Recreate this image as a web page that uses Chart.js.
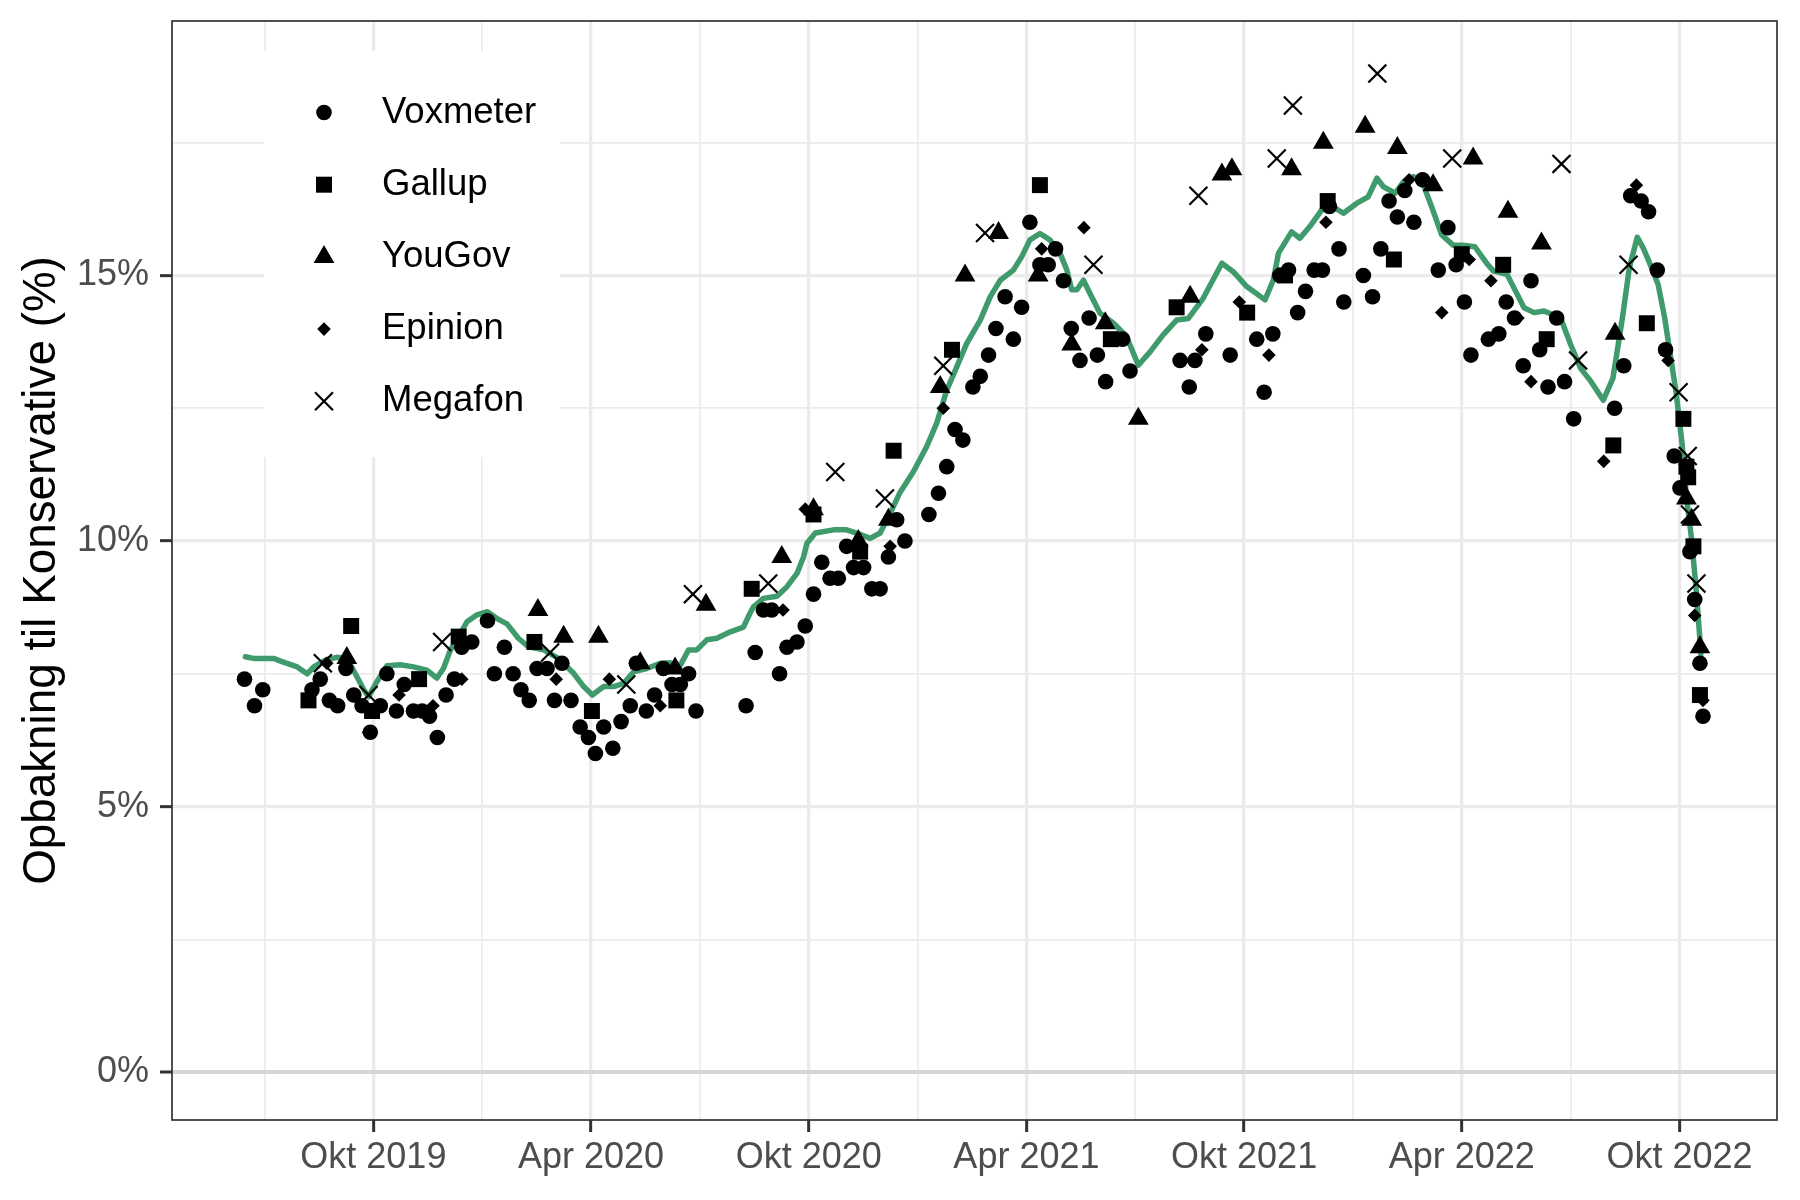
<!DOCTYPE html>
<html>
<head>
<meta charset="utf-8">
<script src="https://cdn.jsdelivr.net/npm/chart.js"></script>
<style>
  body { margin: 0; background: #fff; }
  #wrap { width: 1800px; height: 1200px; }
</style>
</head>
<body>
<div id="wrap"><canvas id="graf" width="1800" height="1200"></canvas></div>
<script>
// pollsters shown in the legend, in order
const institutter = ["Voxmeter", "Gallup", "YouGov", "Epinion", "Megafon"];

// polls: [date as decimal year, support in %]
const voxmeter = [
  [2019.454,7.4],[2019.477,6.9],[2019.496,7.2],[2019.609,7.2],[2019.628,7.4],[2019.649,7.0],[2019.668,6.9],
  [2019.687,7.6],[2019.705,7.1],[2019.724,6.9],[2019.743,6.4],[2019.766,6.9],[2019.781,7.5],[2019.803,6.8],
  [2019.821,7.3],[2019.842,6.8],[2019.862,6.8],[2019.879,6.7],[2019.897,6.3],[2019.917,7.1],[2019.936,7.4],
  [2019.953,8.0],[2019.976,8.1],[2020.012,8.5],[2020.028,7.5],[2020.051,8.0],[2020.071,7.5],[2020.089,7.2],
  [2020.108,7.0],[2020.126,7.6],[2020.149,7.6],[2020.166,7.0],[2020.183,7.7],[2020.204,7.0],[2020.225,6.5],
  [2020.244,6.3],[2020.260,6.0],[2020.279,6.5],[2020.300,6.1],[2020.319,6.6],[2020.340,6.9],[2020.354,7.7],
  [2020.377,6.8],[2020.396,7.1],[2020.416,7.6],[2020.436,7.3],[2020.455,7.3],[2020.474,7.5],[2020.491,6.8],
  [2020.606,6.9],[2020.627,7.9],[2020.646,8.7],[2020.665,8.7],[2020.683,7.5],[2020.700,8.0],[2020.723,8.1],
  [2020.742,8.4],[2020.761,9.0],[2020.780,9.6],[2020.799,9.3],[2020.818,9.3],[2020.837,9.9],[2020.853,9.5],
  [2020.876,9.5],[2020.895,9.1],[2020.914,9.1],[2020.933,9.7],[2020.952,10.4],[2020.971,10.0],[2021.026,10.5],
  [2021.048,10.9],[2021.067,11.4],[2021.086,12.1],[2021.104,11.9],[2021.127,12.9],[2021.144,13.1],[2021.163,13.5],
  [2021.180,14.0],[2021.201,14.6],[2021.220,13.8],[2021.239,14.4],[2021.258,16.0],[2021.281,15.2],[2021.300,15.2],
  [2021.317,15.5],[2021.335,14.9],[2021.353,14.0],[2021.373,13.4],[2021.394,14.2],[2021.413,13.5],[2021.432,13.0],
  [2021.471,13.8],[2021.488,13.2],[2021.603,13.4],[2021.624,12.9],[2021.637,13.4],[2021.662,13.9],[2021.718,13.5],
  [2021.779,13.8],[2021.796,12.8],[2021.816,13.9],[2021.832,15.0],[2021.852,15.1],[2021.873,14.3],[2021.891,14.7],
  [2021.911,15.1],[2021.930,15.1],[2021.946,16.3],[2021.968,15.5],[2021.979,14.5],[2022.024,15.0],[2022.045,14.6],
  [2022.064,15.5],[2022.083,16.4],[2022.102,16.1],[2022.119,16.6],[2022.140,16.0],[2022.160,16.8],[2022.196,15.1],
  [2022.218,15.9],[2022.237,15.2],[2022.256,14.5],[2022.271,13.5],[2022.311,13.8],[2022.335,13.9],[2022.352,14.5],
  [2022.371,14.2],[2022.391,13.3],[2022.409,14.9],[2022.429,13.6],[2022.448,12.9],[2022.468,14.2],[2022.486,13.0],
  [2022.507,12.3],[2022.601,12.5],[2022.622,13.3],[2022.638,16.5],[2022.662,16.4],[2022.679,16.2],[2022.699,15.1],
  [2022.718,13.6],[2022.738,11.6],[2022.751,11.0],[2022.774,9.8],[2022.785,8.9],[2022.797,7.7],[2022.804,6.7]
];
const gallup = [
  [2019.601,7.0],[2019.699,8.4],[2019.747,6.8],[2019.855,7.4],[2019.946,8.2],[2020.120,8.1],[2020.252,6.8],
  [2020.446,7.0],[2020.619,9.1],[2020.761,10.5],[2020.868,9.8],[2020.945,11.7],[2021.079,13.6],[2021.281,16.7],
  [2021.444,13.8],[2021.595,14.4],[2021.757,14.3],[2021.844,15.0],[2021.942,16.4],[2022.094,15.3],[2022.250,15.4],
  [2022.345,15.2],[2022.445,13.8],[2022.598,11.8],[2022.675,14.1],[2022.759,12.3],[2022.766,11.4],[2022.770,11.2],
  [2022.782,9.9],[2022.797,7.1]
];
const yougov = [
  [2019.689,7.8],[2020.128,8.7],[2020.187,8.2],[2020.267,8.2],[2020.363,7.7],[2020.443,7.6],[2020.514,8.8],
  [2020.688,9.7],[2020.761,10.6],[2020.864,10.0],[2020.933,10.4],[2021.052,12.9],[2021.109,15.0],[2021.186,15.8],
  [2021.277,15.0],[2021.354,13.7],[2021.431,14.1],[2021.507,12.3],[2021.626,14.6],[2021.699,16.9],[2021.722,17.0],
  [2021.859,17.0],[2021.932,17.5],[2022.028,17.8],[2022.102,17.4],[2022.184,16.7],[2022.276,17.2],[2022.356,16.2],
  [2022.433,15.6],[2022.602,13.9],[2022.766,10.8],[2022.778,10.4],[2022.797,8.0]
];
const epinion = [
  [2019.643,7.7],[2019.739,6.4],[2019.809,7.1],[2019.887,6.9],[2019.953,7.4],[2020.170,7.4],[2020.292,7.4],
  [2020.409,6.9],[2020.691,8.7],[2020.742,10.6],[2020.937,9.9],[2021.059,12.5],[2021.285,15.5],[2021.382,15.9],
  [2021.653,13.6],[2021.739,14.5],[2021.807,13.5],[2021.938,16.0],[2022.129,16.8],[2022.204,14.3],[2022.267,15.3],
  [2022.317,14.9],[2022.379,14.2],[2022.409,13.0],[2022.576,11.5],[2022.651,16.7],[2022.724,13.4],[2022.785,8.6],
  [2022.804,7.0]
];
const megafon = [
  [2019.634,7.7],[2019.739,7.1],[2019.908,8.1],[2020.156,7.9],[2020.331,7.3],[2020.484,9.0],[2020.657,9.2],
  [2020.811,11.3],[2020.925,10.8],[2021.059,13.3],[2021.155,15.8],[2021.404,15.2],[2021.645,16.5],[2021.825,17.2],
  [2021.862,18.2],[2022.056,18.8],[2022.228,17.2],[2022.479,17.1],[2022.517,13.4],[2022.633,15.2],[2022.748,12.8],
  [2022.769,11.6],[2022.774,10.5],[2022.789,9.2]
];

// smoothed average (green line)
const trend = [
  [2019.456,7.82],[2019.475,7.79],[2019.521,7.79],[2019.540,7.73],[2019.575,7.63],[2019.598,7.50],[2019.613,7.63],
  [2019.640,7.76],[2019.666,7.81],[2019.689,7.79],[2019.708,7.51],[2019.728,7.20],[2019.739,7.07],[2019.758,7.35],
  [2019.781,7.65],[2019.812,7.67],[2019.842,7.63],[2019.873,7.57],[2019.896,7.42],[2019.911,7.60],[2019.927,7.95],
  [2019.950,8.26],[2019.965,8.48],[2019.988,8.61],[2020.012,8.67],[2020.034,8.54],[2020.057,8.44],[2020.083,8.17],
  [2020.106,8.01],[2020.141,7.95],[2020.175,7.79],[2020.210,7.51],[2020.233,7.26],[2020.253,7.10],[2020.279,7.26],
  [2020.302,7.26],[2020.325,7.32],[2020.348,7.54],[2020.378,7.60],[2020.409,7.70],[2020.432,7.71],[2020.451,7.60],
  [2020.474,7.95],[2020.493,7.95],[2020.516,8.14],[2020.539,8.17],[2020.570,8.29],[2020.600,8.38],[2020.615,8.64],
  [2020.623,8.76],[2020.646,8.92],[2020.677,8.96],[2020.700,9.14],[2020.723,9.39],[2020.738,9.70],[2020.746,9.96],
  [2020.765,10.15],[2020.807,10.21],[2020.837,10.21],[2020.860,10.15],[2020.891,10.05],[2020.914,10.15],[2020.937,10.52],
  [2020.960,10.92],[2020.990,11.30],[2021.021,11.78],[2021.044,12.22],[2021.067,12.84],[2021.090,13.28],[2021.113,13.72],
  [2021.144,14.16],[2021.167,14.60],[2021.190,14.91],[2021.220,15.10],[2021.239,15.35],[2021.258,15.67],[2021.281,15.79],
  [2021.304,15.67],[2021.327,15.42],[2021.343,15.10],[2021.354,14.73],[2021.366,14.73],[2021.381,14.91],[2021.396,14.66],
  [2021.419,14.29],[2021.450,14.10],[2021.480,13.85],[2021.507,13.31],[2021.534,13.56],[2021.564,13.88],[2021.595,14.16],
  [2021.622,14.19],[2021.656,14.57],[2021.699,15.23],[2021.725,15.07],[2021.756,14.79],[2021.798,14.54],[2021.817,14.91],
  [2021.829,15.42],[2021.859,15.82],[2021.878,15.70],[2021.901,15.92],[2021.928,16.23],[2021.947,16.33],[2021.978,16.17],
  [2022.009,16.36],[2022.035,16.48],[2022.055,16.83],[2022.070,16.67],[2022.097,16.55],[2022.116,16.76],[2022.139,16.86],
  [2022.162,16.70],[2022.181,16.29],[2022.204,15.76],[2022.230,15.57],[2022.253,15.57],[2022.280,15.54],[2022.307,15.23],
  [2022.323,15.08],[2022.354,15.02],[2022.393,14.39],[2022.416,14.30],[2022.439,14.33],[2022.477,14.20],[2022.500,13.70],
  [2022.523,13.25],[2022.547,13.00],[2022.575,12.65],[2022.597,13.06],[2022.608,13.63],[2022.620,14.26],[2022.635,15.15],
  [2022.653,15.72],[2022.666,15.53],[2022.681,15.24],[2022.701,14.83],[2022.716,14.20],[2022.730,13.45],[2022.742,12.81],
  [2022.756,11.83],[2022.766,10.83],[2022.778,10.02],[2022.789,9.02],[2022.797,8.14],[2022.799,7.87]
];

// axes
const xTicks = [2019.75, 2020.25, 2020.75, 2021.25, 2021.75, 2022.25, 2022.75];
const xTickLabels = ["Okt 2019", "Apr 2020", "Okt 2020", "Apr 2021", "Okt 2021", "Apr 2022", "Okt 2022"];
const xMinor = [2019.5, 2020.0, 2020.5, 2021.0, 2021.5, 2022.0, 2022.5];
const yTicks = [0, 5, 10, 15];
const yTickLabels = ["0%", "5%", "10%", "15%"];
const yMinor = [2.5, 7.5, 12.5, 17.5];

const serier = [voxmeter, gallup, yougov, epinion, megafon];
const former = [
  { pointStyle: "circle", radius: 7.8, border: 0 },
  { pointStyle: "rect", radius: 11.3, border: 0 },
  { pointStyle: "triangle", radius: 12, border: 0 },
  { pointStyle: "rectRot", radius: 6.8, border: 0 },
  { pointStyle: "crossRot", radius: 12.7, border: 2.2 },
];
const GRON = "#409B6C";
const FONT = "'Liberation Sans', Arial, Helvetica, sans-serif";

const er = (a, b) => Math.abs(a - b) < 1e-6;
const findIdx = (arr, v) => arr.findIndex(t => er(t, v));

// draws a legend key the same way as the points in the plot
function tegnMarkor(ctx, form, x, y) {
  ctx.save();
  ctx.fillStyle = "#000";
  ctx.strokeStyle = "#000";
  ctx.beginPath();
  const r = form.radius;
  if (form.pointStyle === "circle") {
    ctx.arc(x, y, r, 0, Math.PI * 2);
    ctx.fill();
  } else if (form.pointStyle === "rect") {
    const s = r * Math.SQRT1_2;
    ctx.rect(x - s, y - s, 2 * s, 2 * s);
    ctx.fill();
  } else if (form.pointStyle === "triangle") {
    ctx.moveTo(x, y - r);
    ctx.lineTo(x + r * Math.sin(Math.PI / 3), y + r / 2);
    ctx.lineTo(x - r * Math.sin(Math.PI / 3), y + r / 2);
    ctx.closePath();
    ctx.fill();
  } else if (form.pointStyle === "rectRot") {
    ctx.moveTo(x - r, y); ctx.lineTo(x, y - r); ctx.lineTo(x + r, y); ctx.lineTo(x, y + r);
    ctx.closePath();
    ctx.fill();
  } else {
    const o = r * Math.SQRT1_2;
    ctx.lineWidth = form.border;
    ctx.moveTo(x - o, y - o); ctx.lineTo(x + o, y + o);
    ctx.moveTo(x + o, y - o); ctx.lineTo(x - o, y + o);
    ctx.stroke();
  }
  ctx.restore();
}

const legendPlugin = {
  id: "legendBoks",
  beforeDatasetsDraw(chart) {
    const ctx = chart.ctx;
    ctx.save();
    ctx.fillStyle = "#ffffff";
    ctx.fillRect(264, 51, 296, 406);
    ctx.font = "36.5px " + FONT;
    ctx.fillStyle = "#000";
    ctx.textBaseline = "middle";
    institutter.forEach((navn, i) => {
      const y = 112.5 + i * 72.2;
      tegnMarkor(ctx, former[i], 324, y);
      ctx.fillText(navn, 382, y);
    });
    ctx.restore();
  },
};

const rammePlugin = {
  id: "ramme",
  afterDatasetsDraw(chart) {
    const { left, top, width, height } = chart.chartArea;
    const ctx = chart.ctx;
    ctx.save();
    ctx.strokeStyle = "#333333";
    ctx.lineWidth = 1.7;
    ctx.strokeRect(left, top, width, height);
    ctx.restore();
  },
};

const datasets = [
  {
    type: "line",
    label: "Gennemsnit",
    data: trend.map(([x, y]) => ({ x, y })),
    borderColor: GRON,
    borderWidth: 5.5,
    borderJoinStyle: "round",
    borderCapStyle: "round",
    pointRadius: 0,
    fill: false,
    tension: 0,
    order: 10,
  },
  ...serier.map((s, i) => ({
    type: "scatter",
    label: institutter[i],
    data: s.map(([x, y]) => ({ x, y })),
    pointStyle: former[i].pointStyle,
    pointRadius: former[i].radius,
    backgroundColor: "#000",
    borderColor: "#000",
    borderWidth: former[i].border,
    order: 1,
  })),
];

new Chart(document.getElementById("graf"), {
  type: "scatter",
  data: { datasets },
  plugins: [legendPlugin, rammePlugin],
  options: {
    responsive: false,
    animation: false,
    devicePixelRatio: 1,
    events: [],
    layout: { padding: { left: 0, right: 23, top: 21, bottom: 0 } },
    plugins: { legend: { display: false }, tooltip: { enabled: false } },
    scales: {
      x: {
        type: "linear",
        min: 2019.2875,
        max: 2022.974,
        afterBuildTicks(scale) {
          scale.ticks = [...xMinor, ...xTicks].sort((a, b) => a - b).map(v => ({ value: v }));
        },
        afterFit(scale) {
          scale.height = 80;
          scale.paddingLeft = 0;
          scale.paddingRight = 0;
        },
        border: { display: false },
        grid: {
          color: "#EBEBEB",
          lineWidth: c => (findIdx(xTicks, c.tick.value) >= 0 ? 3.3 : 1.7),
          tickColor: c => (findIdx(xTicks, c.tick.value) >= 0 ? "#333333" : "rgba(0,0,0,0)"),
          tickWidth: 3,
          tickLength: 12,
        },
        ticks: {
          autoSkip: false,
          maxRotation: 0,
          minRotation: 0,
          padding: 4,
          color: "#4D4D4D",
          font: { family: FONT, size: 36 },
          callback: v => {
            const i = findIdx(xTicks, v);
            return i >= 0 ? xTickLabels[i] : "";
          },
        },
      },
      y: {
        type: "linear",
        min: -0.9,
        max: 19.79,
        afterBuildTicks(scale) {
          scale.ticks = [...yTicks, ...yMinor].sort((a, b) => a - b).map(v => ({ value: v }));
        },
        afterFit(scale) {
          scale.width = 172;
          scale.paddingTop = 0;
          scale.paddingBottom = 0;
        },
        border: { display: false },
        grid: {
          color: c => (er(c.tick.value, 0) ? "#D6D6D6" : "#EBEBEB"),
          lineWidth: c => (er(c.tick.value, 0) ? 4 : findIdx(yTicks, c.tick.value) >= 0 ? 3.3 : 1.7),
          tickColor: c => (findIdx(yTicks, c.tick.value) >= 0 ? "#333333" : "rgba(0,0,0,0)"),
          tickWidth: 3,
          tickLength: 12,
        },
        ticks: {
          autoSkip: false,
          padding: 11,
          color: "#4D4D4D",
          font: { family: FONT, size: 36 },
          callback: v => {
            const i = findIdx(yTicks, v);
            return i >= 0 ? yTickLabels[i] : "";
          },
        },
        title: {
          display: true,
          text: "Opbakning til Konservative (%)",
          color: "#000",
          font: { family: FONT, size: 45.8 },
          padding: { top: 15, bottom: 0 },
        },
      },
    },
  },
});
</script>
</body>
</html>
